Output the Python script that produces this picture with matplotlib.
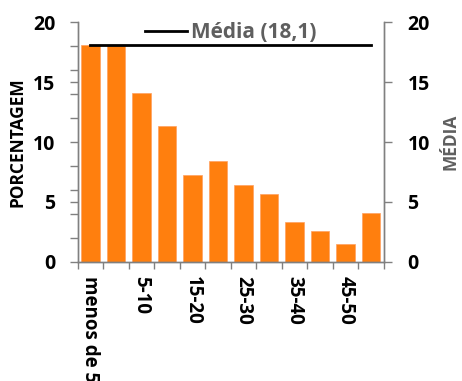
import matplotlib
matplotlib.use("Agg")
import matplotlib.pyplot as plt
from matplotlib.lines import Line2D

plt.rcParams['font.family'] = ['Open Sans', 'DejaVu Sans']
plt.rcParams['font.weight'] = 'bold'

categories = ["menos de 5", "5", "5-10", "10-15", "15-20", "20-25", "25-30",
              "30-35", "35-40", "40-45", "45-50", "mais de 50"]
percentages = [18.1, 18.1, 14.07, 11.36, 7.21, 8.38, 6.38, 5.68, 3.29, 2.53, 1.45, 4.04]
mean_value = 18.1
mean_label = "Média (18,1)"
y_major = [0, 5, 10, 15, 20]
y_minor = list(range(0, 21, 2))

bar_color = "#FF7F0E"
axis_color = "#808080"
gray_text = "#5F5F5F"

fig = plt.figure(figsize=(4.62, 3.81), dpi=100)
ax = fig.add_axes([0.168, 0.313, 0.663, 0.628])
ax2 = ax.twinx()

x = list(range(len(categories)))
ax.bar(x, percentages, width=0.72, color=bar_color, edgecolor="#FFA060", linewidth=0.5, zorder=2)
ax2.plot([x[0], x[-1]], [mean_value, mean_value], color="black", lw=2, zorder=3)

ax.set_xlim(-0.5, len(categories) - 0.5)
ax.set_ylim(0, 20)
ax2.set_ylim(0, 20)

# x axis: ticks at category boundaries, labels at every other category
ax.set_xticks([i - 0.5 for i in range(len(categories) + 1)])
ax.set_xticklabels([])
ax.tick_params(axis='x', which='major', direction='out', length=5, color=axis_color, width=1)
ax.set_xticks(x[::2], minor=True)
ax.set_xticklabels(categories[::2], minor=True, rotation=-90, fontsize=13.5,
                   fontweight='bold', va='top', ha='center')
ax.tick_params(axis='x', which='minor', length=0, pad=10)

ax.set_yticks(y_major)
ax.set_yticklabels([str(v) for v in y_major], fontsize=14, fontweight='bold')
ax.set_yticks(y_minor, minor=True)
ax.tick_params(axis='y', which='both', direction='out', length=6, color=axis_color, width=1)
ax.tick_params(axis='y', which='major', pad=10)

ax2.set_yticks(y_major)
ax2.set_yticklabels([str(v) for v in y_major], fontsize=14, fontweight='bold')
ax2.tick_params(axis='y', direction='out', length=6, color=axis_color, width=1, pad=11)

for a in (ax, ax2):
    a.spines['top'].set_visible(False)
    for s in ('left', 'right', 'bottom'):
        a.spines[s].set_color(axis_color)
        a.spines[s].set_linewidth(1)

ax.set_ylabel("PORCENTAGEM", fontsize=12.5, fontweight='bold', color='black', labelpad=5)
ax2.set_ylabel("MÉDIA", fontsize=12.5, fontweight='bold', color=gray_text, labelpad=8)

handle = Line2D([], [], color='black', lw=2)
leg = ax2.legend([handle], [mean_label], loc='upper center', bbox_to_anchor=(0.5, 1.08),
                 frameon=False, fontsize=15, handlelength=2.0, handletextpad=0.2)
for t in leg.get_texts():
    t.set_color(gray_text)
    t.set_fontweight('bold')

fig.savefig("out.png", dpi=100)
